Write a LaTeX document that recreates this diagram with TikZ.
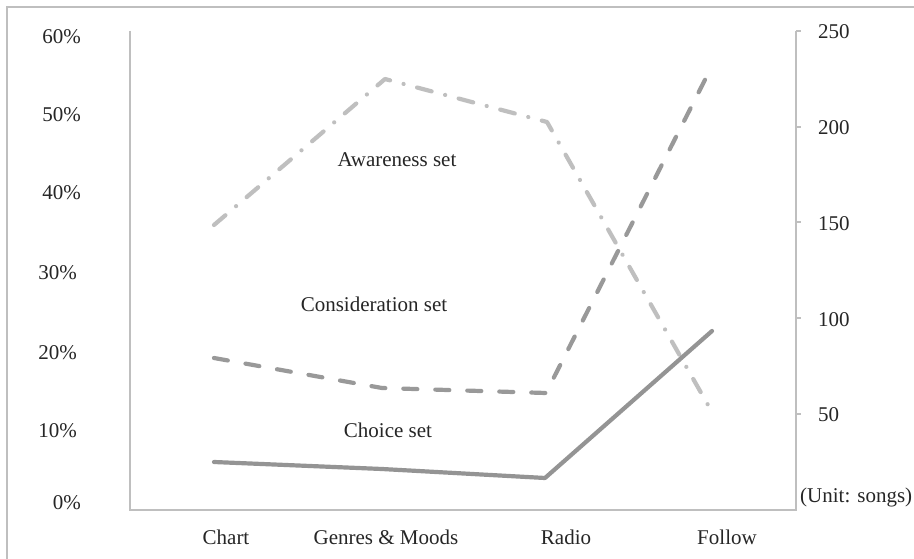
\documentclass[tikz,border=0pt]{standalone}
\usepackage{fontspec}
\setmainfont{Liberation Serif}
\begin{document}
\begin{tikzpicture}[x=1pt,y=-1pt,
  lbl/.style={font=\fontsize{21}{25}\selectfont, text=black!85, inner sep=0pt},
  axisline/.style={draw=black!25, line width=1.5pt},
  awareline/.style={draw=black!25, line width=4.2pt, line cap=round, line join=round,
    dash pattern=on 15pt off 14pt on 0.01pt off 14pt},
  considline/.style={draw=black!40, line width=4.2pt, line cap=round, line join=round,
    dash pattern=on 14pt off 18pt},
  choiceline/.style={draw=black!42, line width=4.2pt, line cap=round, line join=round}]
\useasboundingbox (0,0) rectangle (914,559);
\fill[white] (0,0) rectangle (914,559);
% frame
\draw[axisline] (7,570) -- (7,7) -- (925,7);

% axes
\coordinate (ytop) at (130,31);
\coordinate (orig) at (130,510);
\coordinate (rbot) at (796,510);
\coordinate (rtop) at (796,31);
\draw[axisline] (ytop) -- (orig) -- (rbot) -- (rtop);
\foreach \yy in {31,127,222,318,414}
  \draw[axisline] (796,\yy) -- (801,\yy);

% left-axis labels
\node[lbl, anchor=east] (l60) at (81,37) {60\%};
\node[lbl, anchor=east] (l50) at (81,115) {50\%};
\node[lbl, anchor=east] (l40) at (81,193) {40\%};
\node[lbl, anchor=east] (l30) at (77,273) {30\%};
\node[lbl, anchor=east] (l20) at (77,353) {20\%};
\node[lbl, anchor=east] (l10) at (77,431) {10\%};
\node[lbl, anchor=east] (l0) at (81,503) {0\%};

% right-axis labels
\node[lbl, anchor=west] (r250) at (818,32) {250};
\node[lbl, anchor=west] (r200) at (818,128) {200};
\node[lbl, anchor=west] (r150) at (818,224) {150};
\node[lbl, anchor=west] (r100) at (818,320) {100};
\node[lbl, anchor=west] (r50) at (818,415) {50};
\node[lbl, anchor=west] (unit) at (800,497) {(Unit: songs)};

% categories
\node[lbl] (cChart) at (226,537) {Chart};
\node[lbl] (cGenre) at (386,537) {Genres \& Moods};
\node[lbl] (cRadio) at (566,537) {Radio};
\node[lbl] (cFollow) at (727,537) {Follow};

% data points
\coordinate (a1) at (214,225);
\coordinate (a2) at (385,79);
\coordinate (a3) at (547,122);
\coordinate (a4) at (712,412);
\coordinate (c1) at (214,358);
\coordinate (c2) at (382,388);
\coordinate (c3) at (546,393);
\coordinate (c4) at (712,66);
\coordinate (s1) at (214,462);
\coordinate (s2) at (382,469);
\coordinate (s3) at (545,478);
\coordinate (s4) at (712,331);

\draw[awareline] (a1) -- (a2) -- (a3) -- (a4);
\draw[considline] (c1) -- (c2) -- (c3) -- (c4);
\draw[choiceline] (s1) -- (s2) -- (s3) -- (s4);

% series labels
\node[lbl] (tAware) at (397,160) {Awareness set};
\node[lbl] (tConsid) at (374,304) {Consideration set};
\node[lbl] (tChoice) at (388,430) {Choice set};
\end{tikzpicture}
\end{document}
